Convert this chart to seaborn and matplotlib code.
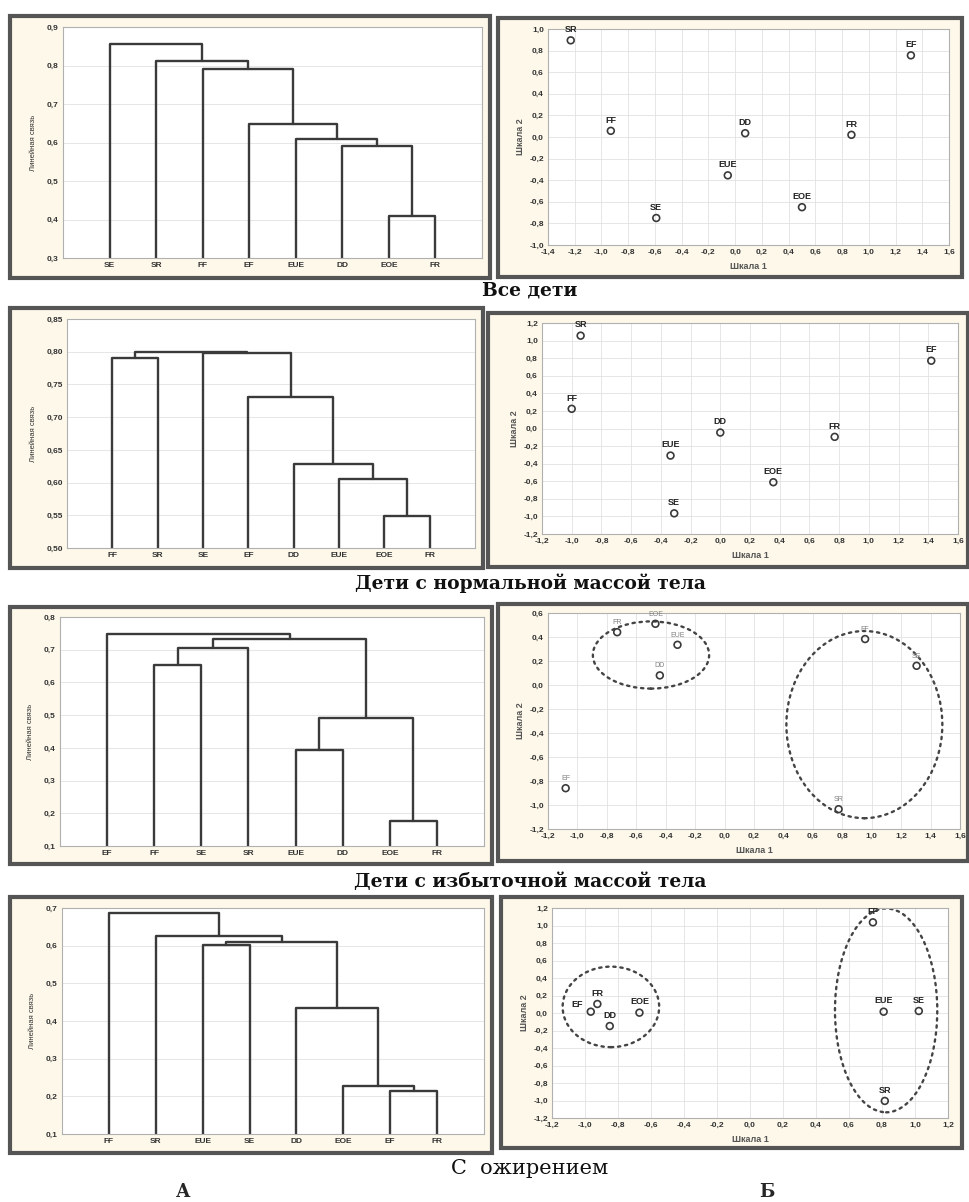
import numpy as np
import pandas as pd
import matplotlib.pyplot as plt
import seaborn as sns
from matplotlib.patches import Rectangle, Ellipse
from matplotlib.ticker import FuncFormatter, MultipleLocator

# ---------------- A: dendrograms (leaf order, merges: left, right, height) ----------------
leaves_1 = ['SE', 'SR', 'FF', 'EF', 'EUE', 'DD', 'EOE', 'FR']
merges_1 = [('EOE', 'FR', 0.41), ('DD', 0, 0.592), ('EUE', 1, 0.608), ('EF', 2, 0.647),
            ('FF', 3, 0.79), ('SR', 4, 0.812), ('SE', 5, 0.856)]

leaves_2 = ['FF', 'SR', 'SE', 'EF', 'DD', 'EUE', 'EOE', 'FR']
merges_2 = [('EOE', 'FR', 0.549), ('EUE', 0, 0.605), ('DD', 1, 0.628), ('EF', 2, 0.731),
            ('FF', 'SR', 0.790), ('SE', 3, 0.798), (4, 5, 0.800)]

leaves_3 = ['EF', 'FF', 'SE', 'SR', 'EUE', 'DD', 'EOE', 'FR']
merges_3 = [('EOE', 'FR', 0.176), ('EUE', 'DD', 0.394), (1, 0, 0.492), ('FF', 'SE', 0.653),
            (3, 'SR', 0.705), (4, 2, 0.733), ('EF', 5, 0.748)]

leaves_4 = ['FF', 'SR', 'EUE', 'SE', 'DD', 'EOE', 'EF', 'FR']
merges_4 = [('EF', 'FR', 0.215), ('EOE', 0, 0.227), ('DD', 1, 0.434), ('EUE', 'SE', 0.601),
            (3, 2, 0.609), ('SR', 4, 0.626), ('FF', 5, 0.687)]

# ---------------- Б: multidimensional scaling (Шкала 1, Шкала 2) ----------------
names_1 = ['SR', 'EF', 'FF', 'DD', 'FR', 'EUE', 'SE', 'EOE']
sc1_1 = [-1.23, 1.315, -0.93, 0.075, 0.87, -0.055, -0.59, 0.50]
sc2_1 = [0.895, 0.756, 0.057, 0.035, 0.02, -0.355, -0.75, -0.65]

names_2 = ['SR', 'EF', 'FF', 'DD', 'FR', 'EUE', 'EOE', 'SE']
sc1_2 = [-0.94, 1.42, -1.0, 0.0, 0.77, -0.335, 0.357, -0.31]
sc2_2 = [1.056, 0.771, 0.224, -0.046, -0.095, -0.308, -0.611, -0.965]

names_3 = ['FR', 'EOE', 'EUE', 'DD', 'EF', 'FF', 'SE', 'SR']
sc1_3 = [-0.73, -0.47, -0.32, -0.44, -1.08, 0.955, 1.305, 0.775]
sc2_3 = [0.44, 0.51, 0.335, 0.08, -0.86, 0.383, 0.16, -1.035]

names_4 = ['FF', 'EUE', 'SE', 'SR', 'FR', 'EF', 'DD', 'EOE']
sc1_4 = [0.745, 0.81, 1.023, 0.817, -0.925, -0.965, -0.85, -0.67]
sc2_4 = [1.036, 0.015, 0.023, -1.005, 0.103, 0.015, -0.149, 0.004]

# cluster ellipses: centre x, centre y, width, height
ellipses_3 = [(-0.50, 0.25, 0.79, 0.56), (0.95, -0.33, 1.06, 1.56)]
ellipses_4 = [(-0.843, 0.07, 0.585, 0.92), (0.825, 0.03, 0.62, 2.33)]

captions = ['Все дети', 'Дети с нормальной массой тела',
            'Дети с избыточной массой тела']
last_caption = 'С  ожирением'

sns.set_style('white')
plt.rcParams['font.family'] = ['Liberation Sans', 'DejaVu Sans']

W, H = 970, 1202
fig = plt.figure(figsize=(W / 100, H / 100), dpi=100)
LINE = '#3a3a3a'


def px_rect(x0, y0, x1, y1):
    return [x0 / W, 1 - y1 / H, (x1 - x0) / W, (y1 - y0) / H]


def frame(x0, y0, x1, y1):
    l, b, w, h = px_rect(x0, y0, x1, y1)
    fig.patches.append(Rectangle((l, b), w, h, transform=fig.transFigure,
                                 facecolor='#fdf8ea', edgecolor='#555555', lw=3, zorder=-5))


def comma_fmt(dec):
    return FuncFormatter(lambda v, _: f"{round(v, dec) + 0.0:.{dec}f}".replace('.', ','))


def style_axes(ax):
    ax.set_facecolor('white')
    for s in ax.spines.values():
        s.set_color('#b0b0b0')
        s.set_linewidth(0.8)
    ax.tick_params(labelsize=6, length=0, pad=3, colors='#333333')
    for t in ax.get_xticklabels() + ax.get_yticklabels():
        t.set_fontweight('bold')


def dendrogram(ax, leaves, merges, ylim, step, dec):
    pos = {name: i + 1 for i, name in enumerate(leaves)}
    cpos, chgt = [], []
    rows = []
    for k, (a, b, h) in enumerate(merges):
        xa = pos[a] if isinstance(a, str) else cpos[a]
        xb = pos[b] if isinstance(b, str) else cpos[b]
        ha = ylim[0] if isinstance(a, str) else chgt[a]
        hb = ylim[0] if isinstance(b, str) else chgt[b]
        for xx, yy in [(xa, ha), (xa, h), (xb, h), (xb, hb)]:
            rows.append({'seg': k, 'x': xx, 'y': yy})
        cpos.append((xa + xb) / 2)
        chgt.append(h)
    df = pd.DataFrame(rows)
    sns.lineplot(data=df, x='x', y='y', units='seg', estimator=None, sort=False,
                 color=LINE, lw=1.7, ax=ax, legend=False)
    ax.set_xlim(0, 9)
    ax.set_ylim(*ylim)
    ax.set_xticks(range(1, len(leaves) + 1))
    ax.set_xticklabels(leaves)
    ax.yaxis.set_major_locator(MultipleLocator(step))
    ax.yaxis.set_major_formatter(comma_fmt(dec))
    ax.grid(axis='y', color='#e2e2e2', lw=0.6)
    ax.set_xlabel('')
    ax.set_ylabel('Линейная связь', fontsize=5.5, labelpad=7, color='#333333')
    style_axes(ax)


def mds(ax, names, s1, s2, xlim, ylim, ellipses=None, faint=False, offsets=None):
    df = pd.DataFrame({'name': names, 's1': s1, 's2': s2})
    sns.scatterplot(data=df, x='s1', y='s2', marker='o', s=24, facecolor='none',
                    edgecolor=LINE, linewidth=1.2, ax=ax, zorder=3)
    offsets = offsets or {}
    for _, r in df.iterrows():
        dx, dy = offsets.get(r['name'], (0, 4.5))
        ax.annotate(r['name'], (r['s1'], r['s2']), xytext=(dx, dy), textcoords='offset points',
                    ha='center', va='bottom', fontsize=5 if faint else 6.5,
                    fontweight='normal' if faint else 'bold',
                    color='#808080' if faint else '#222222')
    for cx, cy, w, h in (ellipses or []):
        ax.add_patch(Ellipse((cx, cy), w, h, fill=False, ls=(0, (1, 2.0)), lw=1.7,
                             edgecolor='#444444', capstyle='round'))
    ax.set_xlim(*xlim)
    ax.set_ylim(*ylim)
    ax.xaxis.set_major_locator(MultipleLocator(0.2))
    ax.yaxis.set_major_locator(MultipleLocator(0.2))
    ax.xaxis.set_major_formatter(comma_fmt(1))
    ax.yaxis.set_major_formatter(comma_fmt(1))
    ax.grid(color='#e2e2e2', lw=0.6)
    ax.set_xlabel('Шкала 1', fontsize=6.5, fontweight='bold', color='#555555', labelpad=4)
    ax.set_ylabel('Шкала 2', fontsize=6.5, fontweight='bold', color='#555555', labelpad=3)
    style_axes(ax)


# frames and axes in pixel coordinates
left_frames = [(10, 16, 490, 278), (10, 308, 483, 568), (10, 607, 492, 864), (10, 897, 492, 1153)]
left_axes = [(63, 27, 482, 258), (67, 319, 475, 548), (60, 617, 484, 846), (62, 908, 484, 1134)]
right_frames = [(498, 18, 962, 277), (488, 313, 968, 567), (498, 604, 968, 861), (501, 897, 962, 1148)]
right_axes = [(548, 29, 949, 245), (542, 323, 958, 534), (548, 613, 960, 829), (552, 908, 948, 1118)]

for f in left_frames + right_frames:
    frame(*f)

dend = [(leaves_1, merges_1, (0.3, 0.9), 0.1, 1),
        (leaves_2, merges_2, (0.5, 0.85), 0.05, 2),
        (leaves_3, merges_3, (0.1, 0.8), 0.1, 1),
        (leaves_4, merges_4, (0.1, 0.7), 0.1, 1)]
for rect, (lv, mg, yl, st, dc) in zip(left_axes, dend):
    ax = fig.add_axes(px_rect(*rect))
    dendrogram(ax, lv, mg, yl, st, dc)

ax = fig.add_axes(px_rect(*right_axes[0]))
mds(ax, names_1, sc1_1, sc2_1, (-1.4, 1.6), (-1.0, 1.0))
ax = fig.add_axes(px_rect(*right_axes[1]))
mds(ax, names_2, sc1_2, sc2_2, (-1.2, 1.6), (-1.2, 1.2))
ax = fig.add_axes(px_rect(*right_axes[2]))
mds(ax, names_3, sc1_3, sc2_3, (-1.2, 1.6), (-1.2, 0.6), ellipses_3, faint=True)
ax = fig.add_axes(px_rect(*right_axes[3]))
mds(ax, names_4, sc1_4, sc2_4, (-1.2, 1.2), (-1.2, 1.2), ellipses_4,
    offsets={'EF': (-10, 2)})

# captions
serif = ['DejaVu Serif', 'Liberation Serif']
for txt, y in zip(captions, [291, 583, 882]):
    fig.text(530 / W, 1 - y / H, txt, ha='center', va='center', fontsize=13.5,
             fontweight='bold', family=serif, color='#111111')
fig.text(530 / W, 1 - 1169 / H, last_caption, ha='center', va='center', fontsize=15,
         family=serif, color='#111111')
fig.text(183 / W, 1 - 1192 / H, 'А', ha='center', va='center', fontsize=13,
         fontweight='bold', family=serif)
fig.text(767 / W, 1 - 1192 / H, 'Б', ha='center', va='center', fontsize=13,
         fontweight='bold', family=serif)

fig.savefig('out.png', dpi=100)
